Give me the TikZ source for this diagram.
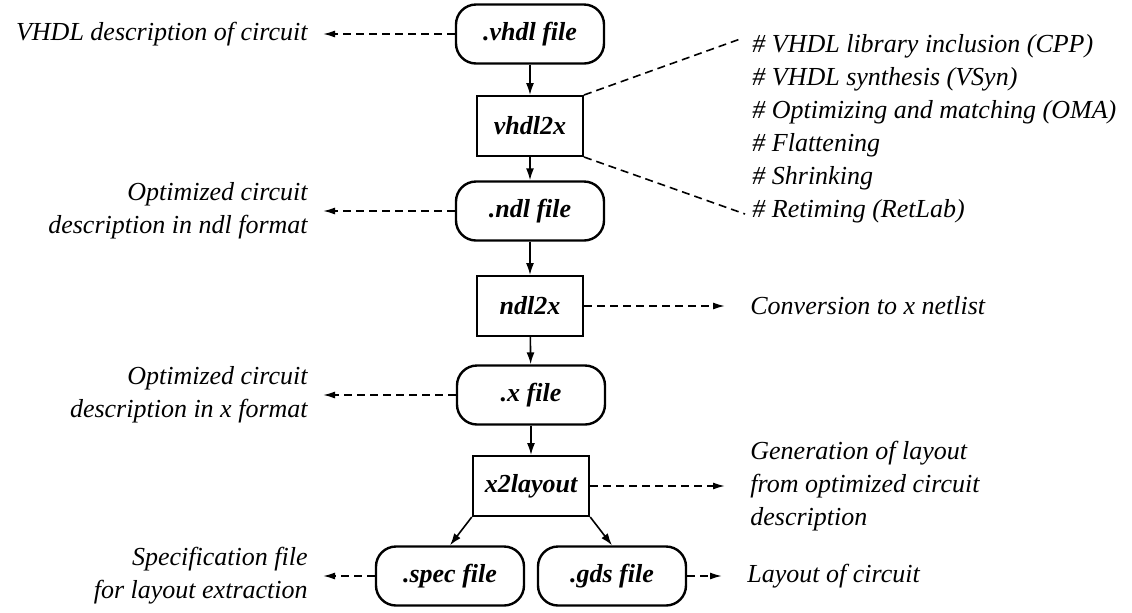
\documentclass[tikz,border=0pt]{standalone}
\usepackage{fontspec}
\setmainfont{Liberation Serif}
\usetikzlibrary{arrows.meta}

\begin{document}
\begin{tikzpicture}[
      x=0.5pt, y=-0.5pt,
      every node/.style={font=\fontsize{13}{16.5}\selectfont\itshape},
      filebox/.style={draw, line width=1.2pt, rounded corners=10pt, minimum width=74pt,
        minimum height=29.5pt, font=\fontsize{13}{16.5}\selectfont\bfseries\itshape},
      toolbox/.style={draw, line width=1pt, minimum width=53pt, minimum height=30pt,
        inner xsep=6pt, font=\fontsize{13}{16.5}\selectfont\bfseries\itshape},
      leftnote/.style={anchor=east, align=right, inner xsep=7.5pt, inner ysep=0pt},
      rightnote/.style={anchor=west, align=left, inner xsep=12.5pt, inner ysep=0pt},
      flow/.style={-{Latex[length=6pt,width=4pt]}, line width=0.8pt},
      hint/.style={dash pattern=on 4pt off 2.5pt, line width=0.8pt},
      hintarrow/.style={hint, -{Latex[length=6pt,width=3.5pt]}}
    ]
    \path[fill=white] (0,0) rectangle (1132,612);
    \useasboundingbox (0,0) rectangle (1132,612);

    % design flow
    \node[filebox] (vhdl) at (530,34) {.vhdl file};
    \node[toolbox] (vhdltox) at (530,126) {vhdl2x};
    \node[filebox] (ndl) at (530,211) {.ndl file};
    \node[toolbox] (ndltox) at (530,306) {ndl2x};
    \node[filebox] (xfile) at (531,395) {.x file};
    \node[toolbox] (xtolayout) at (531,486) {x2layout};
    \node[filebox] (spec) at (450,576) {.spec file};
    \node[filebox] (gds) at (612,576) {.gds file};

    \draw[flow] (vhdl) -- (vhdltox);
    \draw[flow] (vhdltox) -- (ndl);
    \draw[flow] (ndl) -- (ndltox);
    \draw[flow] (ndltox) -- (xfile);
    \draw[flow] (xfile) -- (xtolayout);
    \draw[flow] (xtolayout.south west) -- (spec.north);
    \draw[flow] (xtolayout.south east) -- (gds.north);

    % explanations on the left
    \node[leftnote] (vhdlnote) at (323,34) {VHDL description of circuit};
    \node[leftnote] (ndlnote) at (323,211) {Optimized circuit\\description in ndl format};
    \node[leftnote] (xnote) at (323,395) {Optimized circuit\\description in x format};
    \node[leftnote] (specnote) at (323,576) {Specification file\\for layout extraction};

    \draw[hintarrow] (vhdl.west) -- (vhdlnote.east);
    \draw[hintarrow] (ndl.west) -- (ndlnote.east);
    \draw[hintarrow] (xfile.west) -- (xnote.east);
    \draw[hintarrow] (spec.west) -- (specnote.east);

    % explanations on the right
    \node[anchor=west, align=left, inner sep=0pt] (steps) at (752,129)
      {\# VHDL library inclusion (CPP)\\\# VHDL synthesis (VSyn)\\
       \# Optimizing and matching (OMA)\\\# Flattening\\\# Shrinking\\\# Retiming (RetLab)};
    \coordinate (stepstop) at (743,38);
    \coordinate (stepsbot) at (745,214);
    \draw[hint] (vhdltox.north east) -- (stepstop);
    \draw[hint] (vhdltox.south east) -- (stepsbot);

    \node[rightnote] (ndltonote) at (725,306) {Conversion to x netlist};
    \node[rightnote] (layoutnote) at (725,486) {Generation of layout\\from optimized circuit\\description};
    \node[rightnote] (gdsnote) at (722,576) {Layout of circuit};

    \draw[hintarrow] (ndltox.east) -- (ndltonote.west);
    \draw[hintarrow] (xtolayout.east) -- (layoutnote.west);
    \draw[hintarrow] (gds.east) -- (gdsnote.west);
\end{tikzpicture}
\end{document}
